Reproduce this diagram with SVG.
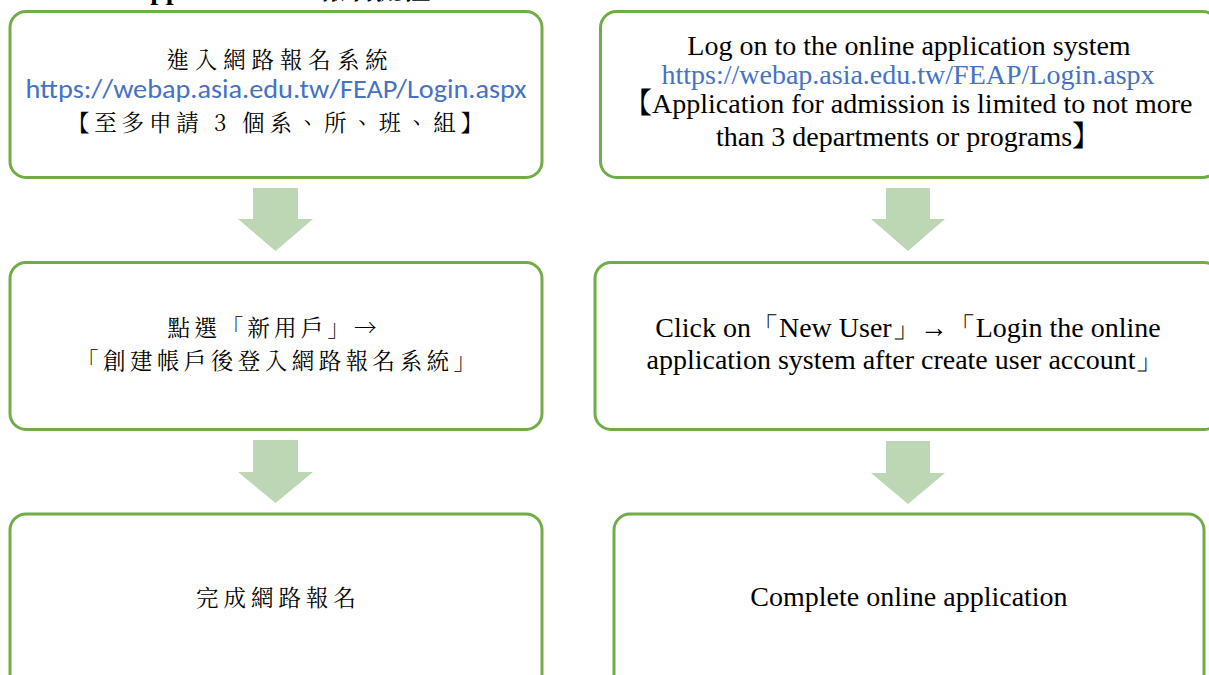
<svg xmlns="http://www.w3.org/2000/svg" width="1209" height="675" viewBox="0 0 1209 675">
  <style>
    .box { fill: #ffffff; stroke: #70AD47; stroke-width: 3; }
    .arrow { fill: #BDD7B4; stroke: none; }
    .zh { font-family: "Noto Serif CJK TC", "Noto Sans CJK TC", serif; font-size: 22.5px; fill: #000000; }
    .en { font-family: "Liberation Serif", serif; font-size: 28px; fill: #000000; }
    .cjk { font-family: "Noto Serif CJK TC", "Noto Sans CJK TC", serif; font-size: 28px; fill: #000000; }
    .url-sans { font-family: Carlito, Calibri, Lato, "Liberation Sans", sans-serif; font-size: 26px; fill: #4472C4; }
    .url-serif { font-family: "Liberation Serif", serif; font-size: 28px; fill: #4472C4; }
    .title { font-family: "Liberation Serif", serif; font-size: 28px; font-weight: bold; fill: #000000; }
  </style>
  <rect x="0" y="0" width="1209" height="675" fill="#ffffff"/>

  <g id="title">
    <text class="title" y="-1"><tspan x="130">Application</tspan><tspan x="318" font-family="Noto Serif CJK TC, Noto Sans CJK TC, serif">報名流程</tspan></text>
  </g>

  <g id="connectors">
    <path class="arrow" d="M253,188 H298 V219 H313 L275.5,251 L238,219 H253 Z"/>
    <path class="arrow" d="M253,440 H298 V472 H313 L275.5,503 L238,472 H253 Z"/>
    <path class="arrow" d="M886,188 H930 V219 H945 L908,251 L871,219 H886 Z"/>
    <path class="arrow" d="M886,441 H930 V473 H945 L908,504 L871,473 H886 Z"/>
  </g>

  <g id="node-zh-1">
    <rect class="box" x="10" y="11.5" width="532" height="166" rx="16" ry="16"/>
    <text class="zh" x="277" y="68" text-anchor="middle" textLength="221" lengthAdjust="spacing">進入網路報名系統</text>
    <text class="url-sans" x="276" y="98" text-anchor="middle" textLength="501" lengthAdjust="spacingAndGlyphs">https://webap.asia.edu.tw/FEAP/Login.aspx</text>
    <text class="zh" x="275" y="131" text-anchor="middle" textLength="416" lengthAdjust="spacing">【至多申請 3 個系、所、班、組】</text>
  </g>

  <g id="node-en-1">
    <rect class="box" x="600.5" y="11.5" width="618" height="166" rx="16" ry="16"/>
    <text class="en" x="909" y="55" text-anchor="middle">Log on to the online application system</text>
    <text class="url-serif" x="908" y="84" text-anchor="middle">https://webap.asia.edu.tw/FEAP/Login.aspx</text>
    <text class="cjk" x="624" y="113">【</text>
    <text class="en" x="652" y="113">Application for admission is limited to not more</text>
    <text class="en" x="716" y="146">than 3 departments or programs</text>
    <text class="cjk" x="1072" y="146">】</text>
  </g>

  <g id="node-zh-2">
    <rect class="box" x="10" y="262.5" width="532" height="167" rx="16" ry="16"/>
    <text class="zh" x="272" y="336" text-anchor="middle" textLength="209" lengthAdjust="spacing">點選「新用戶」→</text>
    <text class="zh" x="276" y="369" text-anchor="middle" textLength="400" lengthAdjust="spacing">「創建帳戶後登入網路報名系統」</text>
  </g>

  <g id="node-en-2">
    <rect class="box" x="595" y="262.5" width="625" height="167" rx="16" ry="16"/>
    <text class="en" x="908" y="337" text-anchor="middle">Click on「New User」→「Login the online</text>
    <text class="en" x="905" y="369" text-anchor="middle">application system after create user account」</text>
  </g>

  <g id="node-zh-3">
    <rect class="box" x="10" y="514" width="532" height="180" rx="16" ry="16"/>
    <text class="zh" x="276" y="606" text-anchor="middle" textLength="160" lengthAdjust="spacing">完成網路報名</text>
  </g>

  <g id="node-en-3">
    <rect class="box" x="614" y="514" width="590" height="180" rx="16" ry="16"/>
    <text class="en" x="909" y="606" text-anchor="middle">Complete online application</text>
  </g>
</svg>
